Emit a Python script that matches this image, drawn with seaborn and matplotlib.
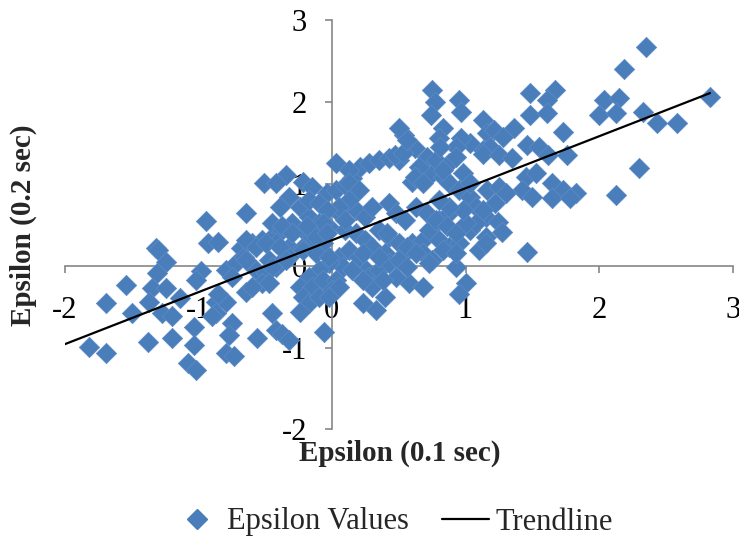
import matplotlib
matplotlib.use('Agg')
import matplotlib.pyplot as plt
import seaborn as sns
import pandas as pd
from matplotlib.lines import Line2D

# ---- data ----
eps_01 = [
    -0.51, -0.64, -0.94, -0.93, -0.85, -1.32, -1.30, -0.68, -0.60, -0.52,
    -0.45, -0.45, -1.24, -1.31, -1.54, -0.98, -1.02, -0.79, -0.72, -0.66,
    -0.75, -0.57, -0.49, -0.42, -0.64, -0.52, -1.35, -1.24, -1.14, -1.69,
    -1.50, -1.37, -1.27, -1.20, -0.87, -0.79, -0.87, -0.75, -1.03, -1.20,
    -1.38, -1.82, -1.69, -1.03, -0.77, -0.79, -0.73, -1.08, -1.02, -0.56,
    -0.45, -0.42, -0.90, -0.85,
    0.54, 0.03, -0.34, -0.22, -0.15, -0.04, 0.03, 0.10, 0.15, 0.21,
    0.28, 0.35, 0.43, 0.50, 0.60, 0.68, 0.75, 0.83, 0.88, 0.95,
    1.03, 1.08, 1.15, 1.13, 1.03, 0.43, -0.42, -0.32, -0.39, -0.24,
    -0.17, -0.37, -0.30, -0.22, -0.12, -0.10, -0.02, 0.03, 0.10, 0.18,
    0.25, 0.30, -0.42, -0.32, -0.22, -0.15, -0.07, 0.10, 0.18, 0.25,
    0.35, 0.43, 0.50, 0.55, 0.40, 0.60, 0.68, 0.73, 0.80, 0.88,
    0.68, 0.75, 0.80, 0.88, 0.95, 1.03, 1.08, 1.15, 1.10, 0.73,
    0.83, 0.93, 1.00, 0.95, 0.58, 0.68, 0.23, 0.28, 0.35, 0.43,
    0.48, 0.30, 0.23, 0.33, 0.40, 0.05, 0.13, 0.08, 0.15, 0.20,
    -0.02, -0.10, -0.17, -0.24, -0.15, -0.07, 0.03, 0.00, -0.22, -0.17,
    -0.10, -0.02, -0.24, -0.37, -0.32, -0.06, -0.47, -0.39, -0.32,
    0.50, 0.75, 0.77, 0.74, 0.95, 0.97, 0.83, 0.80, 0.97, 0.93,
    1.13, 1.16, 0.62, 0.71, 0.78, 0.88, 0.93,
    2.35, 2.19, 2.83, 1.48, 1.67, 1.61, 1.48, 1.61, 2.04, 2.15,
    2.00, 2.13, 2.33, 2.43, 2.58, 1.21, 1.36, 1.28, 1.73, 1.18,
    1.13, 1.25, 1.46, 1.55, 1.62, 1.76, 1.35, 2.30, 1.45, 1.53,
    1.65, 1.73, 1.83, 1.42, 1.50, 1.65, 1.78, 2.13, 1.16, 1.25,
    1.30, 1.22, 1.13, 1.24, 1.27, 1.46,
    0.13, 0.47, 0.53, 0.56, 0.81, 0.65, 0.62, 0.68, 0.83, 0.98,
    1.03, 0.13, 0.20, 0.13, 0.05, 0.10, 0.48, 0.55, 0.63, 0.71,
    0.78, 0.86, 0.93, 1.00, 0.98, 0.88, 0.80, 0.41, 0.56, 0.63,
    0.30, 0.23, 0.93, 1.15,
    -0.37, -0.30, -0.17, -0.10, -0.04, -0.07, -0.19, -0.12, -0.04, -0.64,
    -0.57, -0.49, -0.39, -0.64, -0.45, -0.34, -0.22, -0.12, -0.02, -0.60,
    -0.47,
    0.05, 0.38, 0.23, 0.35, 0.50, 0.56,
]
eps_02 = [
    1.01, 0.65, 0.55, 0.28, 0.29, 0.22, 0.19, 0.22, 0.28, 0.32,
    0.35, 0.52, 0.04, -0.09, -0.23, -0.07, -0.17, -0.05, 0.03, 0.11,
    -0.14, -0.05, -0.09, -0.02, -0.32, -0.21, -0.27, -0.27, -0.39, -0.46,
    -0.58, -0.44, -0.58, -0.62, -0.44, -0.44, -0.58, -0.70, -0.75, -0.88,
    -0.93, -0.99, -1.07, -0.97, -0.85, -1.07, -1.11, -1.19, -1.27, -0.88,
    -0.58, -0.79, -0.62, -0.34,
    1.60, 1.26, 1.11, 1.02, 0.96, 0.89, 0.93, 0.99, 1.07, 1.21,
    1.26, 1.29, 1.32, 1.29, 1.02, 1.08, 1.13, 1.08, 1.01, 0.92,
    0.84, 0.72, 0.60, 1.41, 1.50, 0.77, 1.01, 0.84, 0.72, 0.72,
    0.60, 0.44, 0.52, 0.44, 0.44, 0.52, 0.47, 0.68, 0.72, 0.68,
    0.60, 0.72, 0.28, 0.23, 0.23, 0.35, 0.28, 0.44, 0.40, 0.32,
    0.44, 0.35, 0.28, 0.16, 0.16, 0.28, 0.32, 0.44, 0.56, 0.64,
    0.16, 0.07, 0.32, 0.23, 0.28, 0.44, 0.52, 0.35, 0.19, 0.03,
    0.19, -0.02, -0.21, -0.34, -0.21, -0.26, -0.01, -0.14, -0.05, 0.03,
    -0.14, -0.26, -0.46, -0.54, -0.38, 0.11, 0.19, -0.01, -0.05, 0.11,
    0.03, -0.05, -0.14, -0.26, -0.26, -0.17, -0.17, -0.30, -0.38, -0.46,
    -0.38, -0.38, -0.57, -0.83, -0.91, -0.81, 0.07, 0.03, 0.11,
    1.68, 2.15, 2.00, 1.84, 2.03, 1.88, 1.68, 1.56, 1.56, 1.45,
    1.78, 1.62, 1.44, 1.33, 1.29, 1.25, 1.33,
    2.67, 2.41, 2.06, 2.11, 2.15, 2.03, 1.84, 1.87, 2.03, 2.05,
    1.84, 1.87, 1.88, 1.74, 1.74, 1.66, 1.68, 1.57, 1.63, 1.45,
    1.37, 1.35, 1.47, 1.45, 1.35, 1.35, 1.32, 1.19, 1.08, 1.13,
    1.01, 0.92, 0.89, 0.92, 0.84, 0.83, 0.83, 0.86, 0.92, 0.96,
    0.89, 0.77, 0.68, 0.53, 0.41, 0.17,
    1.17, 1.35, 1.38, 1.54, 1.45, 1.21, 1.09, 1.01, 1.17, 1.13,
    1.01, 1.01, 0.93, 0.80, 0.72, 0.56, 0.64, 0.56, 0.72, 0.64,
    0.56, 0.48, 0.40, 0.52, 0.68, 0.72, 0.80, 0.40, 0.23, 0.15,
    0.23, 0.15, 0.15, 0.28,
    0.48, 0.40, 0.80, 0.77, 0.68, 0.52, 0.48, 0.35, 0.40, 0.31,
    0.23, 0.28, 0.23, 0.07, -0.01, 0.07, 0.19, 0.15, 0.11, -0.26,
    -0.21,
    -0.26, -0.17, -0.17, 0.11, 0.07, -0.01,
]
trend_x = [-2.0, 2.83]
trend_y = [-0.96, 2.11]
x_ticks = [-2, -1, 0, 1, 2, 3]
y_ticks = [-2, -1, 0, 1, 2, 3]
series_labels = ['Epsilon Values', 'Trendline']
x_title = 'Epsilon (0.1 sec)'
y_title = 'Epsilon (0.2 sec)'

# ---- style ----
sns.set_style('white')
plt.rcParams['font.family'] = ['Liberation Serif', 'DejaVu Serif']
plt.rcParams['axes.unicode_minus'] = False

BLUE = '#4a7ebb'
GRAY = '#868686'

W, H = 739, 548
fig = plt.figure(figsize=(W / 100, H / 100), dpi=100)
ax = fig.add_axes([64.7 / W, (H - 429.3) / H, 668 / W, 409 / H])

df = pd.DataFrame({'x': eps_01, 'y': eps_02})
sns.scatterplot(data=df, x='x', y='y', marker='D', s=108, color=BLUE,
                edgecolor='#5d8cc6', linewidth=0.5, ax=ax, legend=False,
                zorder=3)
sns.lineplot(x=trend_x, y=trend_y, color='black', linewidth=1.6, ax=ax,
             legend=False, zorder=4)

ax.set_xlim(-2, 3)
ax.set_ylim(-2, 3)
ax.set_xticks(x_ticks)
ax.set_yticks(y_ticks)
ax.set_xticklabels([str(t) for t in x_ticks])
ax.set_yticklabels([str(t) for t in y_ticks])
ax.set_xlabel('')
ax.set_ylabel('')

for side in ['top', 'right']:
    ax.spines[side].set_visible(False)
for side in ['left', 'bottom']:
    ax.spines[side].set_position(('data', 0))
    ax.spines[side].set_color(GRAY)
    ax.spines[side].set_linewidth(1.2)
    ax.spines[side].set_zorder(2)

ax.tick_params(axis='x', bottom=True, direction='out', length=5, width=1.2,
               color=GRAY, pad=17, labelsize=22, labelcolor='black')
ax.tick_params(axis='y', left=True, direction='out', length=5, width=1.2,
               color=GRAY, pad=13, labelsize=22, labelcolor='black')
ax.grid(False)

fig.text(400 / W, 1 - 453 / H, x_title, ha='center', va='center',
         fontsize=21, fontweight='bold')
fig.text(23 / W, 1 - 225 / H, y_title, ha='center', va='center',
         rotation=90, fontsize=21, fontweight='bold')

handles = [
    Line2D([], [], linestyle='none', marker='D', markersize=10,
           markerfacecolor=BLUE, markeredgecolor=BLUE),
    Line2D([], [], color='black', linewidth=1.6),
]
fig.legend(handles, series_labels, loc='center', ncol=2,
           bbox_to_anchor=(393 / W, 1 - 522 / H), frameon=False,
           fontsize=22, handlelength=1.55, handletextpad=0.2,
           columnspacing=1.1, borderaxespad=0)

fig.savefig('out.png', dpi=100)
